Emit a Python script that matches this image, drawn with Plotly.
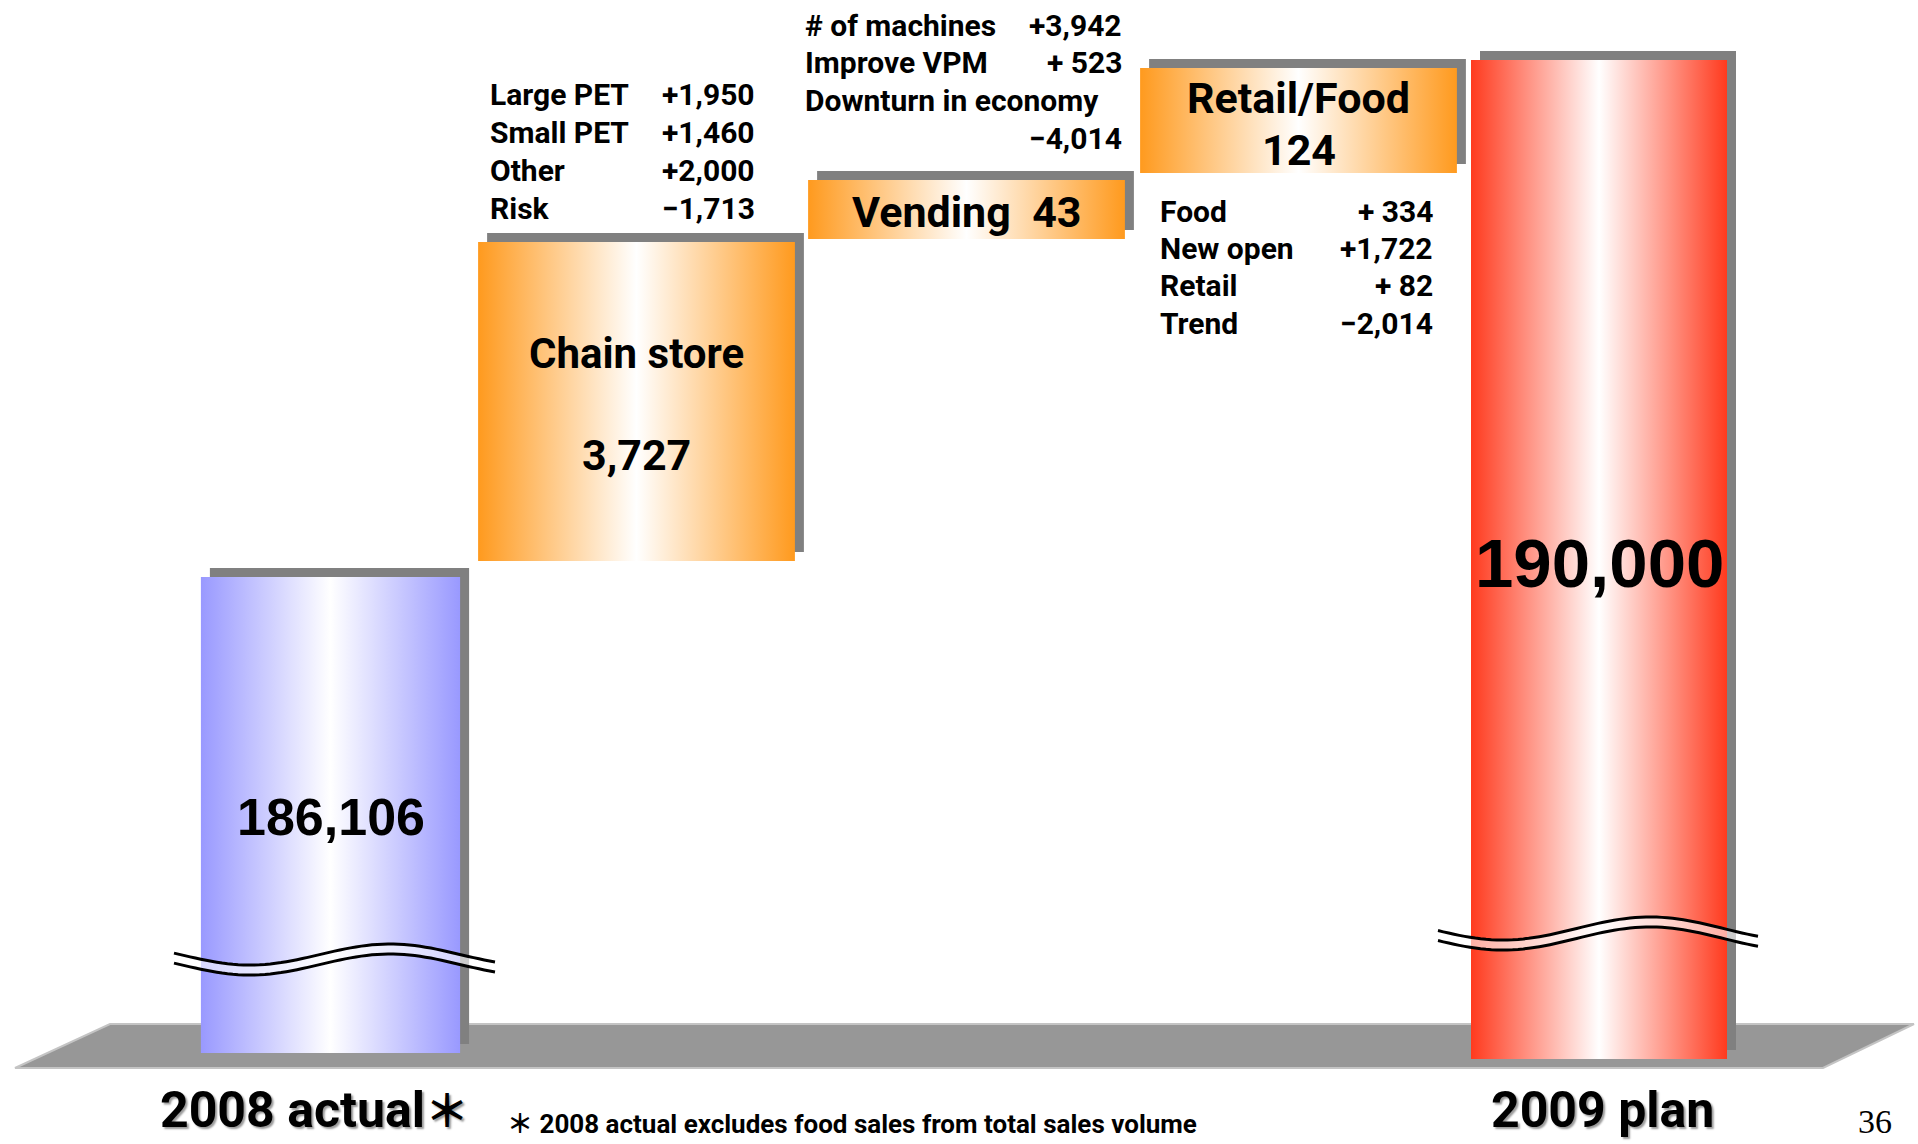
import math
import plotly.graph_objects as go

# ---------------- data ----------------
categories = ["2008 actual＊", "Chain store", "Vending", "Retail/Food", "2009 plan"]
start_total = 186106
step_values = [3727, 43, 124]
end_total = 190000

chain_items = ["Large PET", "Small PET", "Other", "Risk"]
chain_values = [1950, 1460, 2000, -1713]
vending_items = ["# of machines", "Improve VPM", "Downturn in economy"]
vending_values = [3942, 523, -4014]
retail_items = ["Food", "New open", "Retail", "Trend"]
retail_values = [334, 1722, 82, -2014]
footnote = "＊ 2008 actual excludes food sales from total sales volume"
page_number = "36"

# ---------------- layout / style constants ----------------
W, H = 1918, 1144
DX = 320.0                                          # pixels per category unit
slot_px = [330.5, 636.5, 966.5, 1298.5, 1599.0]     # pixel centre of each slot
bar_widths = [0.81, 0.99, 0.99, 0.99, 0.80]         # in category units
box_px = [(577, 1053), (242, 561), (180, 239), (68, 173), (60, 1059)]  # (top, bottom) of each broken axis
SHADOW = 9
GOTHIC = "Roboto, 'Noto Sans CJK JP', sans-serif"
ARIAL = "'Liberation Sans', Arial, sans-serif"
BLUE, ORANGE, RED = "#9999ff", "#ff9a1e", "#ff3a1e"
bar_colors = [BLUE, ORANGE, ORANGE, ORANGE, RED]

# waterfall bases / tops computed from the data
bases, tops = [0], [start_total]
running = start_total
for v in step_values:
    bases.append(running)
    running += v
    tops.append(running)
bases.append(0)
tops.append(end_total)


def fmt_total(v):
    return f"{v:,}"


def fmt_delta(v):
    sign = "+" if v >= 0 else "−"
    pad = "\u00a0" if abs(v) < 1000 else ""
    return f"{sign}{pad}{abs(v):,}"


def yref(k):
    return "y" if k == 0 else f"y{k + 1}"


def xref(k):
    return "x" if k == 0 else f"x{k + 1}"


def gradient(c):
    return dict(type="horizontal",
                colorscale=[[0, c], [0.5, "#ffffff"], [1, c]])


fig = go.Figure()
axis_scale = []
layout_axes = {}
for k in range(5):
    T, B = box_px[k]
    s = (tops[k] - bases[k]) / (B - T)
    axis_scale.append(s)
    lo = bases[k] - (H - B) * s
    hi = tops[k] + T * s
    ykey = "yaxis" if k == 0 else f"yaxis{k + 1}"
    xkey = "xaxis" if k == 0 else f"xaxis{k + 1}"
    yax = dict(range=[lo, hi], visible=False, fixedrange=True)
    xax = dict(range=[k - slot_px[k] / DX, k + (W - slot_px[k]) / DX],
               visible=False, fixedrange=True)
    if k > 0:
        yax["overlaying"] = "y"
        xax["overlaying"] = "x"
    layout_axes[ykey] = yax
    layout_axes[xkey] = xax


def rect(xc, w, y0, y1):
    return ([xc - w / 2, xc + w / 2, xc + w / 2, xc - w / 2, xc - w / 2],
            [y0, y0, y1, y1, y0])

# shadows
for k in range(5):
    xs, ys = rect(k + SHADOW / DX, bar_widths[k], bases[k] + SHADOW * axis_scale[k],
                  tops[k] + SHADOW * axis_scale[k])
    fig.add_trace(go.Scatter(x=xs, y=ys, mode="lines", fill="toself",
                             fillcolor="#808080", line=dict(width=0),
                             xaxis=xref(k), yaxis=yref(k), hoverinfo="skip",
                             showlegend=False))
# bars
for k in range(5):
    xs, ys = rect(k, bar_widths[k], bases[k], tops[k])
    fig.add_trace(go.Scatter(x=xs, y=ys, mode="lines", fill="toself",
                             fillgradient=gradient(bar_colors[k]),
                             line=dict(width=0), name=categories[k],
                             xaxis=xref(k), yaxis=yref(k), hoverinfo="skip",
                             showlegend=False))

annotations = []


def ann(text, x, y, xr, yr, size, xanchor="center", yanchor="middle", xshift=0, yshift=0,
        family=GOTHIC, weight=700, shadow=None, color="black"):
    f = dict(family=family, size=size, color=color, weight=weight)
    if shadow:
        f["shadow"] = shadow
    annotations.append(dict(text=text, x=x, y=y, xref=xr, yref=yr, showarrow=False,
                            xanchor=xanchor, yanchor=yanchor, xshift=xshift,
                            yshift=yshift, font=f))


def mid(k):
    return (bases[k] + tops[k]) / 2

# big labels in bars
ann(fmt_total(start_total), 0, mid(0), xref(0), yref(0), 52, yshift=-2, family=ARIAL)
ann(fmt_total(end_total), 4, mid(4), xref(4), yref(4), 69, yshift=-3.5, family=ARIAL)
ann(categories[1], 1, mid(1), xref(1), yref(1), 42, yshift=48.5)
ann(fmt_total(step_values[0]), 1, mid(1), xref(1), yref(1), 43, yshift=-53.5)
ann(f"{categories[2]}\u00a0\u00a0{step_values[1]:,}", 2, mid(2), xref(2), yref(2), 43, yshift=-2.5)
ann(categories[3], 3, mid(3), xref(3), yref(3), 43, yshift=22.5)
ann(f"{step_values[2]:,}", 3, mid(3), xref(3), yref(3), 43, yshift=-29.5)

# driver breakdowns
for j, (lab, v) in enumerate(zip(chain_items, chain_values)):
    dy = 148 - 38.3 * j
    ann(lab, 1, tops[1], xref(1), yref(1), 30, xanchor="left", xshift=-148.5, yshift=dy)
    ann(fmt_delta(v), 1, tops[1], xref(1), yref(1), 30, xanchor="right", xshift=120, yshift=dy)

vend_rows_lab = [0, 1, 2]
vend_rows_val = [0, 1, 3]
for j, lab in enumerate(vending_items):
    dy = 155 - 37.7 * vend_rows_lab[j]
    ann(lab, 2, tops[2], xref(2), yref(2), 30, xanchor="left", xshift=-163.5, yshift=dy)
for j, v in enumerate(vending_values):
    dy = 155 - 37.7 * vend_rows_val[j]
    ann(fmt_delta(v), 2, tops[2], xref(2), yref(2), 30, xanchor="right", xshift=157, yshift=dy)

for j, (lab, v) in enumerate(zip(retail_items, retail_values)):
    dy = -(38 + 37.4 * j)
    ann(lab, 3, bases[3], xref(3), yref(3), 30, xanchor="left", xshift=-140.5, yshift=dy)
    ann(fmt_delta(v), 3, bases[3], xref(3), yref(3), 30, xanchor="right", xshift=136, yshift=dy)

# category labels, footnote, page number
shadow_txt = "2px 2px 2px #9a9a9a"
cat0 = categories[0].replace("＊", "<span style='font-size:44px'>＊</span>")
ann(cat0, 0, 1 - 1110 / H, xref(0), "paper", 50, xshift=-16, shadow=shadow_txt)
ann(categories[4], 4, 1 - 1110 / H, xref(4), "paper", 50, xshift=3, shadow=shadow_txt)
ann(footnote, 505 / W, 1 - 1124 / H, "paper", "paper", 26, xanchor="left")
ann(page_number, 1875 / W, 1 - 1142 / H, "paper", "paper", 34, yanchor="bottom",
    family="'Liberation Serif', 'Times New Roman', serif", weight=400)

# ---------------- decorations: floor and axis-break waves ----------------
def P(px, py):
    return f"{px / W:.5f},{1 - py / H:.5f}"

floor_pts = [(110, 1024), (1914, 1024), (1823, 1068), (15, 1068)]
floor_path = "M " + " L ".join(P(*p) for p in floor_pts) + " Z"
shapes = [dict(type="path", path=floor_path, xref="paper", yref="paper",
               fillcolor="#979797", line=dict(color="#c4c4c4", width=2), layer="below")]


def wave(x0, x1, c, A, xt, period, off):
    n = 60
    pts = []
    for i in range(n + 1):
        x = x0 + (x1 - x0) * i / n
        y = c + A * math.cos(2 * math.pi * (x - xt) / period) + off
        pts.append((x, y))
    return pts


for (x0, x1, c, A, xt, per) in [(174, 495, 954.5, 10.5, 250, 280),
                                (1438, 1758, 928.5, 11.5, 1503, 294)]:
    top = wave(x0, x1, c, A, xt, per, 0)
    bot = wave(x0, x1, c, A, xt, per, 10)
    band = "M " + " L ".join(P(*p) for p in top + bot[::-1]) + " Z"
    shapes.append(dict(type="path", path=band, xref="paper", yref="paper",
                       fillcolor="rgba(255,255,255,0.6)", line=dict(width=0), layer="above"))
    for line_pts in (top, bot):
        shapes.append(dict(type="path", path="M " + " L ".join(P(*p) for p in line_pts),
                           xref="paper", yref="paper", line=dict(color="black", width=3),
                           layer="above"))

fig.update_layout(
    width=W, height=H, margin=dict(l=0, r=0, t=0, b=0),
    paper_bgcolor="white", plot_bgcolor="white", showlegend=False, hovermode=False,
    annotations=annotations, shapes=shapes, **layout_axes,
)

fig.write_html("out.html")
